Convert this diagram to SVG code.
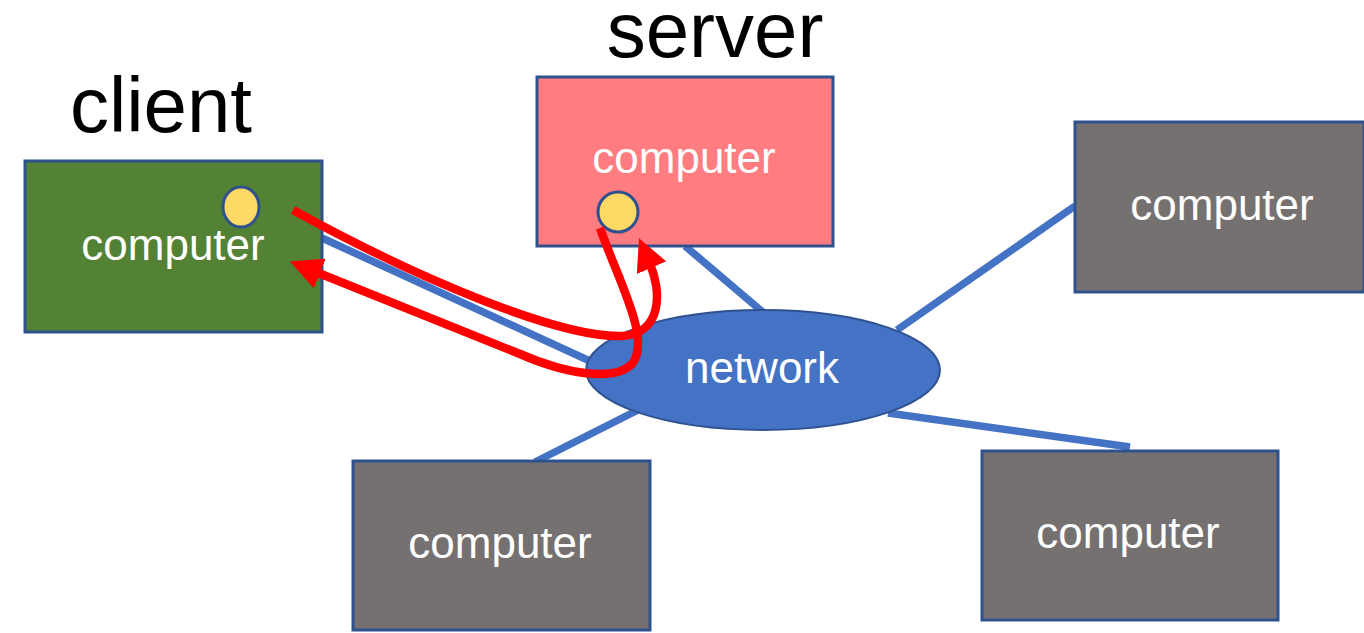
<svg xmlns="http://www.w3.org/2000/svg" width="1364" height="633" viewBox="0 0 1364 633">
  <style>
    .box { stroke: #2F528F; stroke-width: 3; }
    .pc { fill: #767171; }
    .lbl { font-family: "Liberation Sans", Arial, sans-serif; font-size: 44px; fill: #ffffff; text-anchor: middle; }
    .title { font-family: "Liberation Sans", Arial, sans-serif; font-size: 78px; fill: #000000; text-anchor: middle; }
    .link { stroke: #4472C4; stroke-width: 7.5; fill: none; }
    .flow { stroke: #FF0000; stroke-width: 8.5; fill: none; }
    .dot { fill: #FFD966; stroke: #2F528F; stroke-width: 3; }
  </style>
  <defs>
    <marker id="head" markerUnits="userSpaceOnUse" viewBox="0 0 32 32" refX="4" refY="16" markerWidth="32" markerHeight="32" orient="auto">
      <path d="M32,16 L0,0 L0,32 Z" fill="#FF0000"/>
    </marker>
  </defs>

  <rect width="1364" height="633" fill="#ffffff"/>

  <!-- links between the computers and the network -->
  <g id="links">
    <line class="link" x1="322" y1="238" x2="592" y2="362"/>
    <line class="link" x1="685" y1="246" x2="765" y2="314"/>
    <line class="link" x1="897" y1="330" x2="1075" y2="206"/>
    <line class="link" x1="535" y1="462" x2="638" y2="410"/>
    <line class="link" x1="888" y1="413" x2="1130" y2="447"/>
  </g>

  <g id="client">
    <text class="title" x="161" y="132">client</text>
    <rect class="box" x="25" y="161" width="297" height="171" fill="#548235"/>
    <text class="lbl" x="173" y="260">computer</text>
    <ellipse class="dot" cx="241" cy="207" rx="18" ry="20"/>
  </g>

  <g id="server">
    <text class="title" x="715" y="57">server</text>
    <rect class="box" x="537" y="77" width="296" height="169" fill="#FF7C80"/>
    <text class="lbl" x="684" y="173">computer</text>
    <ellipse class="dot" cx="618" cy="212" rx="20" ry="20"/>
  </g>

  <g id="network">
    <ellipse cx="763" cy="370" rx="177" ry="60" fill="#4472C4" stroke="#2F528F" stroke-width="2"/>
    <text class="lbl" x="762" y="383">network</text>
  </g>

  <g id="computer-top-right">
    <rect class="box pc" x="1075" y="122" width="289" height="170"/>
    <text class="lbl" x="1222" y="220">computer</text>
  </g>

  <g id="computer-bottom-left">
    <rect class="box pc" x="353" y="461" width="297" height="169"/>
    <text class="lbl" x="500" y="558">computer</text>
  </g>

  <g id="computer-bottom-right">
    <rect class="box pc" x="982" y="451" width="296" height="169"/>
    <text class="lbl" x="1128" y="548">computer</text>
  </g>

  <!-- request and response flows -->
  <g id="flows">
    <path class="flow" d="M293,210 C420,280 560,338 622,336 C662,334 662,292 650,264" marker-end="url(#head)"/>
    <path class="flow" d="M600,228 C618,280 652,340 632,364 C614,382 566,374 520,354 L316,272" marker-end="url(#head)"/>
  </g>
</svg>
